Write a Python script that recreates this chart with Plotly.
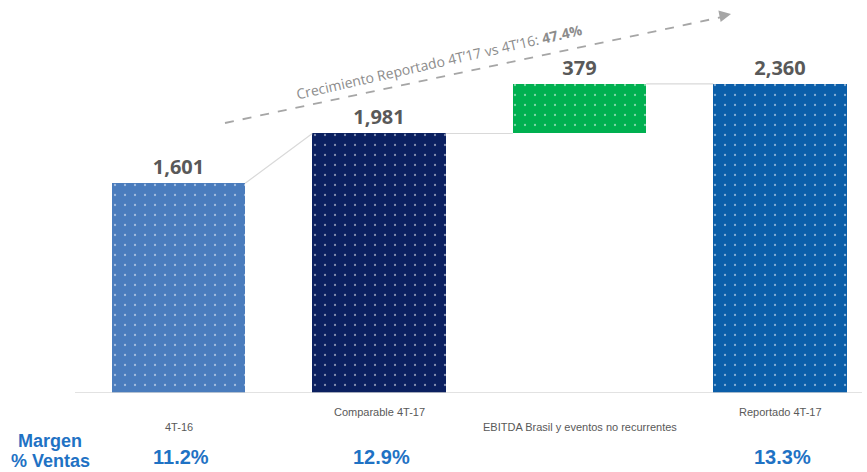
import plotly.graph_objects as go

categories = ["4T-16", "Comparable 4T-17", "EBITDA Brasil y eventos no recurrentes", "Reportado 4T-17"]
values = [1601, 1981, 379, 2360]
bases = [0, 0, 1981, 0]
value_labels = ["1,601", "1,981", "379", "2,360"]
margins = ["11.2%", "12.9%", "", "13.3%"]
colors = ["#4a7cbd", "#0b2060", "#00b050", "#0b5ea9"]
growth_text = "Crecimiento Reportado 4T’17 vs 4T’16: <b>47.4%</b>"

W, H = 867, 472
PLOT_H = 393  # baseline pixel (top margin 0)
X0_PX, STEP_PX = 178.5, 200.5
x_lo = (0 - X0_PX) / STEP_PX
x_hi = (W - X0_PX) / STEP_PX
Y_MAX = 3000

xs = list(range(len(categories)))
fig = go.Figure()
fig.add_trace(go.Bar(
    x=xs, y=values, base=bases, width=0.665,
    marker=dict(color=colors, line=dict(width=0),
                pattern=dict(shape=".", fgcolor="white", size=10, solidity=0.04, fillmode="overlay")),
    text=value_labels, textposition="outside", cliponaxis=False,
    textfont=dict(family="Open Sans, Lato, sans-serif", size=20, color="#595959", weight="bold"),
    hoverinfo="skip",
))

def px_to_paper(px, py):
    return px / W, (PLOT_H - py) / PLOT_H

shapes = []
hw = 0.665 / 2
tops = [b + v for b, v in zip(bases, values)]
conn = [(0 + hw, tops[0], 1 - hw, tops[1]),
        (1 + hw, tops[1], 2 - hw, bases[2]),
        (2 + hw, tops[2], 3 - hw, tops[3])]
for (xa, ya, xb, yb) in conn:
    shapes.append(dict(type="line", xref="x", yref="y", x0=xa, y0=ya, x1=xb, y1=yb,
                       line=dict(color="#d9d9d9", width=1.2)))
shapes.append(dict(type="line", xref="paper", yref="y", x0=75 / W, x1=862 / W, y0=0, y1=0,
                   line=dict(color="#d9d9d9", width=1.5)))
ax0, ay0 = px_to_paper(225, 123)
ax1, ay1 = px_to_paper(722, 17)
shapes.append(dict(type="line", xref="paper", yref="paper", x0=ax0, y0=ay0, x1=ax1, y1=ay1,
                   line=dict(color="#a6a6a6", width=1.8, dash="dash")))

annotations = []
hx, hy = px_to_paper(731, 14)
annotations.append(dict(xref="paper", yref="paper", x=hx, y=hy, ax=-10, ay=2, text="",
                        showarrow=True, arrowhead=2, arrowsize=1.3, arrowwidth=1.8,
                        arrowcolor="#a6a6a6", standoff=0))
tx, ty = px_to_paper(440, 62)
annotations.append(dict(xref="paper", yref="paper", x=tx, y=ty, text=growth_text, showarrow=False,
                        textangle=-12.8, font=dict(family="Open Sans, sans-serif", size=14, color="#8c8c8c"),
                        xanchor="center", yanchor="middle"))
cat_y = [427, 412, 427, 412]
for i, c in enumerate(categories):
    _, py = px_to_paper(0, cat_y[i])
    annotations.append(dict(xref="x", yref="paper", x=xs[i], y=py, text=c, showarrow=False,
                            font=dict(family="Liberation Sans Narrow, Arial Narrow, sans-serif", size=11, color="#595959"),
                            xanchor="center", yanchor="middle"))
for i, m in enumerate(margins):
    if not m:
        continue
    _, py = px_to_paper(0, 457)
    annotations.append(dict(xref="x", yref="paper", x=xs[i] + 0.01, y=py, text=m, showarrow=False,
                            font=dict(family="Liberation Sans Narrow, Arial Narrow, sans-serif", size=20,
                                      color="#1f72c4", weight="bold"),
                            xanchor="center", yanchor="middle"))
for txt, py in [("Margen", 441), ("% Ventas", 461)]:
    px_, pyy = px_to_paper(50, py)
    annotations.append(dict(xref="paper", yref="paper", x=px_, y=pyy, text=txt, showarrow=False,
                            font=dict(family="Liberation Sans, Arial, sans-serif", size=18,
                                      color="#1f72c4", weight="bold"),
                            xanchor="center", yanchor="middle"))

fig.update_layout(
    width=W, height=H,
    margin=dict(l=0, r=0, t=0, b=H - PLOT_H),
    plot_bgcolor="white", paper_bgcolor="white",
    showlegend=False,
    xaxis=dict(range=[x_lo, x_hi], visible=False, fixedrange=True),
    yaxis=dict(range=[0, Y_MAX], visible=False, fixedrange=True),
    shapes=shapes, annotations=annotations,
    bargap=0,
)
fig.write_html("out.html", config={"displayModeBar": False},
               post_script="document.body.style.margin='0';document.body.style.overflow='hidden';")
